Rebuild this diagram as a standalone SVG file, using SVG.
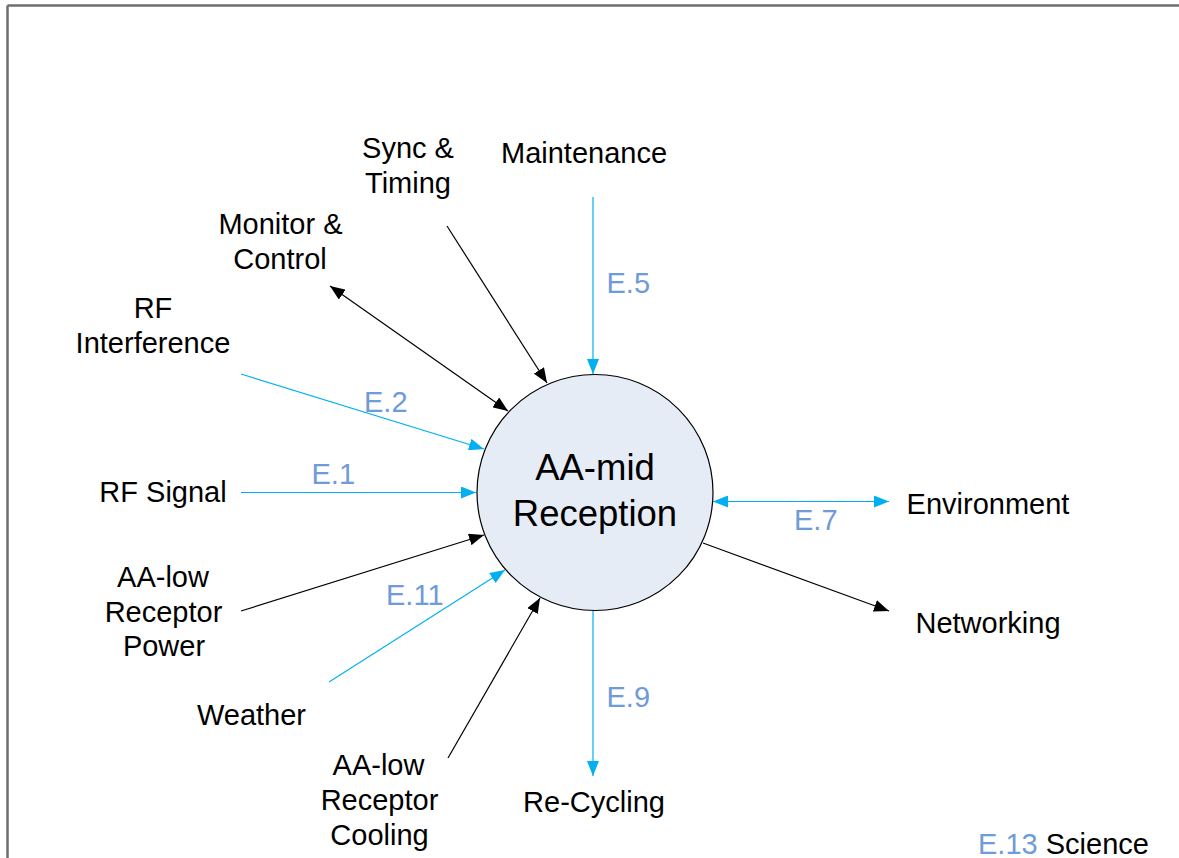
<svg xmlns="http://www.w3.org/2000/svg" width="1179" height="858" viewBox="0 0 1179 858">
<style>
text { font-family: "Liberation Sans", Arial, sans-serif; font-size: 29px; fill: #000; }
.lbl { text-anchor: middle; }
.e { fill: #6f9bd9; }
.center { font-size: 36.5px; text-anchor: middle; }
.blk { stroke: #000; stroke-width: 1.2; fill: none; }
.blu { stroke: #00b0f0; stroke-width: 1.2; fill: none; }
.frame { stroke: #6e6e6e; stroke-width: 2.5; fill: none; }
</style>
<defs>
<marker id="ab" markerUnits="userSpaceOnUse" markerWidth="15" markerHeight="12" refX="15" refY="6" orient="auto-start-reverse" viewBox="0 0 15 12">
<path d="M0,0 L15,6 L0,12 z" fill="#000"/>
</marker>
<marker id="au" markerUnits="userSpaceOnUse" markerWidth="15" markerHeight="12" refX="15" refY="6" orient="auto-start-reverse" viewBox="0 0 15 12">
<path d="M0,0 L15,6 L0,12 z" fill="#00b0f0"/>
</marker>
</defs>
<rect width="1179" height="858" fill="#fff"/>
<g id="frame">
<line class="frame" x1="7.5" y1="5.5" x2="1179" y2="5.5"/>
<line class="frame" x1="7.5" y1="5.5" x2="7.5" y2="858"/>
</g>
<g id="connectors">
<line class="blu" x1="593" y1="197" x2="593" y2="374" marker-end="url(#au)"/>
<line class="blk" x1="447" y1="226" x2="547" y2="383" marker-end="url(#ab)"/>
<line class="blk" x1="330" y1="286" x2="508" y2="411" marker-start="url(#ab)" marker-end="url(#ab)"/>
<line class="blu" x1="241" y1="374" x2="484" y2="449" marker-end="url(#au)"/>
<line class="blu" x1="241" y1="492.5" x2="476" y2="492.5" marker-end="url(#au)"/>
<line class="blk" x1="241" y1="611" x2="484" y2="535" marker-end="url(#ab)"/>
<line class="blu" x1="329" y1="682" x2="505" y2="570" marker-end="url(#au)"/>
<line class="blk" x1="448" y1="758" x2="540" y2="598" marker-end="url(#ab)"/>
<line class="blu" x1="593" y1="611" x2="593" y2="776" marker-end="url(#au)"/>
<line class="blu" x1="713" y1="501.5" x2="889" y2="501.5" marker-start="url(#au)" marker-end="url(#au)"/>
<line class="blk" x1="703" y1="543" x2="889" y2="611" marker-end="url(#ab)"/>
<text class="e" x="606.5" y="293">E.5</text>
<text class="e" x="364" y="411.5">E.2</text>
<text class="e" x="311.5" y="483.5">E.1</text>
<text class="e" x="386" y="605">E.11</text>
<text class="e" x="606.5" y="707">E.9</text>
<text class="e" x="794" y="530">E.7</text>
</g>
<g id="node-center">
<circle cx="595" cy="492.5" r="118" fill="#e6ecf6" stroke="#000" stroke-width="1.2"/>
<text class="center" x="595" y="480">AA-mid</text>
<text class="center" x="595" y="526">Reception</text>
</g>
<g id="node-maintenance"><text class="lbl" x="584" y="163">Maintenance</text></g>
<g id="node-sync"><text class="lbl" x="408" y="157.5">Sync &amp;</text><text class="lbl" x="408" y="192.5">Timing</text></g>
<g id="node-monitor"><text class="lbl" x="280.5" y="233.5">Monitor &amp;</text><text class="lbl" x="280" y="269">Control</text></g>
<g id="node-rfi"><text class="lbl" x="153" y="318">RF</text><text class="lbl" x="153" y="353">Interference</text></g>
<g id="node-rfsignal"><text class="lbl" x="163" y="501.5">RF Signal</text></g>
<g id="node-power"><text class="lbl" x="163" y="586.5">AA-low</text><text class="lbl" x="163.5" y="621.5">Receptor</text><text class="lbl" x="164" y="656">Power</text></g>
<g id="node-weather"><text class="lbl" x="251.5" y="725">Weather</text></g>
<g id="node-cooling"><text class="lbl" x="378.5" y="775">AA-low</text><text class="lbl" x="379.5" y="810">Receptor</text><text class="lbl" x="379.5" y="845">Cooling</text></g>
<g id="node-recycling"><text class="lbl" x="594" y="811.5">Re-Cycling</text></g>
<g id="node-environment"><text class="lbl" x="988" y="514">Environment</text></g>
<g id="node-networking"><text class="lbl" x="988" y="632.5">Networking</text></g>
<g id="node-science"><text x="978" y="854"><tspan class="e">E.13</tspan> Science</text></g>
</svg>
